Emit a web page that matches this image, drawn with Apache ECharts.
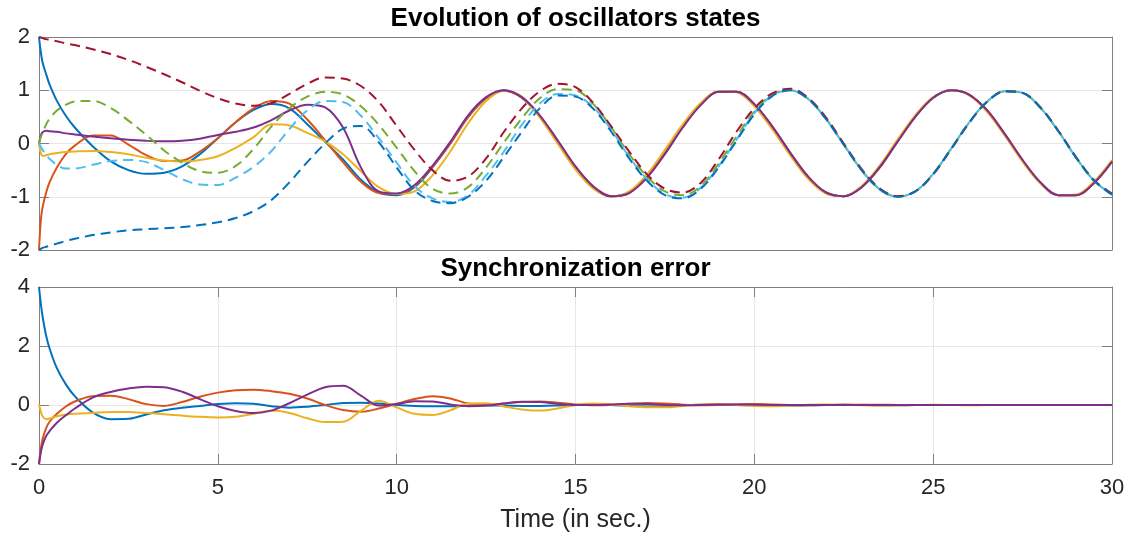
<!DOCTYPE html>
<html>
<head>
<meta charset="utf-8">
<script src="https://cdn.jsdelivr.net/npm/echarts@6/dist/echarts.min.js"></script>
<style>
html,body{margin:0;padding:0;background:#fff;}
#chart{width:1131px;height:537px;}
</style>
</head>
<body>
<div id="chart"></div>
<script>
// ---------------- DATA ----------------
const time = [0,0.05,0.1,0.2,0.3,0.5,0.75,1,
1.5,2,2.5,3,3.5,4,4.5,5,5.5,6,
6.5,7,7.5,8,8.5,9,9.5,10,10.5,11,
11.5,12,12.5,13,13.5,14,14.5,15,15.5,16,
16.5,17,17.5,18,18.5,19,19.5,20,20.5,21,
21.5,22,22.5,23,23.5,24,24.5,25,25.5,26,
26.5,27,27.5,28,28.5,29,29.5,30];

// solid lines (states x)
const x1 = [2.0,1.72,1.52,1.3,1.1,0.8,0.52,0.3,
-0.05,-0.33,-0.5,-0.57,-0.55,-0.43,-0.2,0.1,0.4,0.63,
0.74,0.66,0.36,0.03,-0.3,-0.68,-0.92,-0.97,-0.82,-0.45,
0.0,0.5,0.85,1.0,0.86,0.51,0.04,-0.45,-0.82,-0.99,
-0.92,-0.62,-0.17,0.32,0.74,0.97,0.97,0.73,0.31,-0.18,
-0.63,-0.92,-0.99,-0.82,-0.45,0.04,0.51,0.86,1.0,0.92,
0.62,0.17,-0.32,-0.74,-0.97,-0.97,-0.73,-0.33];
const x2 = [-2.0,-1.45,-1.2,-0.92,-0.72,-0.45,-0.2,-0.04,
0.15,0.15,-0.02,-0.22,-0.33,-0.32,-0.15,0.1,0.4,0.66,
0.8,0.75,0.45,0.06,-0.35,-0.72,-0.93,-0.95,-0.8,-0.44,
0.0,0.5,0.85,0.99,0.86,0.52,0.05,-0.44,-0.81,-0.99,
-0.93,-0.63,-0.18,0.31,0.73,0.97,0.97,0.74,0.32,-0.17,
-0.62,-0.92,-0.99,-0.82,-0.46,0.03,0.5,0.86,1.0,0.92,
0.63,0.18,-0.31,-0.73,-0.97,-0.97,-0.74,-0.34];
const x3 = [0.0,-0.18,-0.23,-0.22,-0.2,-0.18,-0.16,-0.15,
-0.14,-0.16,-0.2,-0.27,-0.32,-0.34,-0.31,-0.24,-0.08,0.12,
0.36,0.34,0.2,0.04,-0.2,-0.52,-0.82,-0.95,-0.9,-0.6,
-0.15,0.38,0.8,0.99,0.88,0.49,0.0,-0.49,-0.85,-1.0,
-0.9,-0.58,-0.12,0.36,0.76,0.98,0.96,0.7,0.27,-0.22,
-0.66,-0.94,-0.99,-0.8,-0.42,0.07,0.53,0.87,1.0,0.91,
0.6,0.15,-0.34,-0.75,-0.97,-0.96,-0.71,-0.31];
const x4 = [0.0,0.15,0.21,0.24,0.23,0.22,0.19,0.17,
0.13,0.1,0.07,0.05,0.04,0.05,0.09,0.16,0.22,0.3,
0.44,0.62,0.73,0.68,0.3,-0.45,-0.9,-0.94,-0.78,-0.42,
0.03,0.53,0.87,1.0,0.87,0.53,0.06,-0.43,-0.81,-0.99,
-0.93,-0.64,-0.2,0.3,0.72,0.97,0.97,0.74,0.32,-0.17,
-0.62,-0.92,-0.99,-0.82,-0.45,0.03,0.5,0.86,1.0,0.92,
0.63,0.18,-0.31,-0.73,-0.97,-0.97,-0.74,-0.34];

// dashed lines (states y)
const y1 = [2.0,1.99,1.98,1.96,1.95,1.92,1.88,1.85,
1.77,1.68,1.57,1.44,1.3,1.15,0.99,0.85,0.75,0.71,
0.76,0.93,1.12,1.24,1.22,1.08,0.78,0.33,-0.12,-0.5,
-0.7,-0.62,-0.28,0.22,0.66,0.98,1.12,1.06,0.76,0.32,
-0.15,-0.58,-0.85,-0.92,-0.74,-0.3,0.22,0.66,0.94,1.03,
0.86,0.49,0.0,-0.48,-0.84,-0.99,-0.9,-0.58,-0.11,0.38,
0.78,0.98,0.95,0.68,0.24,-0.26,-0.69,-0.94];
const y2 = [0.0,0.12,0.2,0.36,0.47,0.62,0.73,0.79,
0.8,0.67,0.43,0.16,-0.13,-0.36,-0.52,-0.55,-0.42,-0.1,
0.32,0.66,0.88,0.97,0.92,0.7,0.35,-0.08,-0.52,-0.85,
-0.94,-0.82,-0.45,0.02,0.47,0.85,1.02,1.0,0.74,0.3,
-0.2,-0.62,-0.9,-0.97,-0.8,-0.38,0.13,0.6,0.92,1.0,
0.84,0.47,-0.02,-0.5,-0.85,-1.0,-0.9,-0.57,-0.1,0.39,
0.78,0.98,0.95,0.67,0.23,-0.27,-0.7,-0.96];
const y3 = [0.0,-0.06,-0.12,-0.22,-0.29,-0.4,-0.47,-0.47,
-0.4,-0.33,-0.31,-0.35,-0.5,-0.67,-0.77,-0.78,-0.64,-0.44,
-0.14,0.27,0.62,0.8,0.78,0.52,0.1,-0.36,-0.8,-1.03,
-1.1,-0.97,-0.6,-0.15,0.35,0.75,0.93,0.9,0.68,0.26,
-0.25,-0.67,-0.95,-1.02,-0.83,-0.43,0.07,0.57,0.9,1.0,
0.84,0.46,-0.02,-0.5,-0.86,-1.0,-0.9,-0.57,-0.1,0.39,
0.78,0.98,0.95,0.67,0.23,-0.27,-0.7,-0.96];
const y4 = [-2.0,-1.98,-1.96,-1.94,-1.92,-1.88,-1.83,-1.79,
-1.72,-1.67,-1.63,-1.61,-1.59,-1.57,-1.53,-1.48,-1.4,-1.27,
-1.06,-0.73,-0.35,0.0,0.28,0.33,0.02,-0.45,-0.88,-1.08,
-1.12,-1.0,-0.7,-0.25,0.22,0.66,0.9,0.88,0.65,0.22,
-0.28,-0.7,-0.97,-1.03,-0.85,-0.45,0.05,0.55,0.89,1.0,
0.84,0.46,-0.02,-0.5,-0.86,-1.0,-0.9,-0.57,-0.1,0.39,
0.78,0.98,0.95,0.67,0.23,-0.27,-0.7,-0.96];

// synchronization errors
const e1 = [4.0,3.45,3.0,2.35,1.9,1.25,0.7,0.3,
-0.25,-0.48,-0.47,-0.32,-0.18,-0.09,-0.03,0.03,0.06,0.04,
-0.04,-0.09,-0.06,0.0,0.07,0.08,0.05,0.0,-0.03,-0.04,
-0.04,-0.03,-0.02,-0.02,-0.03,-0.03,-0.02,0.0,0.01,0.0,
-0.03,-0.05,-0.04,-0.01,0.01,0.01,0.0,-0.01,-0.02,-0.02,
-0.01,0.0,0.01,0.0,-0.01,-0.01,0.0,0.0,0.0,0.0,
0.0,0.0,0.0,0.0,0.0,0.0,0.0,0.0];
const e2 = [-2.0,-1.5,-1.15,-0.78,-0.56,-0.3,-0.05,0.12,
0.3,0.31,0.2,0.03,-0.03,0.1,0.28,0.42,0.5,0.52,
0.47,0.38,0.22,0.0,-0.17,-0.23,-0.12,0.04,0.2,0.3,
0.22,0.05,0.01,0.05,0.1,0.12,0.08,0.02,-0.01,0.0,
0.04,0.07,0.05,0.01,-0.01,0.0,0.02,0.03,0.02,0.0,
-0.01,0.0,0.01,0.01,0.01,0.0,0.0,0.0,0.0,0.0,
0.0,0.0,0.0,0.0,0.0,0.0,0.0,0.0];
const e3 = [0.03,-0.22,-0.38,-0.48,-0.46,-0.38,-0.33,-0.3,
-0.27,-0.24,-0.24,-0.27,-0.31,-0.36,-0.4,-0.42,-0.4,-0.3,
-0.19,-0.27,-0.45,-0.58,-0.57,-0.2,0.14,-0.08,-0.3,-0.34,
-0.18,0.05,0.06,-0.05,-0.15,-0.19,-0.12,0.0,0.05,0.02,
-0.04,-0.08,-0.08,-0.03,0.02,0.03,0.0,-0.03,-0.04,-0.02,
0.01,0.02,0.01,-0.01,-0.02,-0.01,0.0,0.01,0.0,-0.01,
0.0,0.0,0.0,0.0,0.0,0.0,0.0,0.0];
const e4 = [-2.0,-1.6,-1.35,-1.05,-0.88,-0.6,-0.35,-0.12,
0.25,0.44,0.56,0.62,0.6,0.45,0.2,-0.04,-0.2,-0.27,
-0.19,0.06,0.35,0.6,0.65,0.32,-0.02,0.03,0.13,0.12,
0.02,-0.04,-0.02,0.05,0.11,0.1,0.04,0.0,0.0,0.02,
0.04,0.03,0.0,-0.01,0.0,0.02,0.02,0.01,0.0,0.0,
0.0,0.0,0.0,0.0,0.0,0.0,0.0,0.0,0.0,0.0,
0.0,0.0,0.0,0.0,0.0,0.0,0.0,0.0];

const topTitle = 'Evolution of oscillators states';
const bottomTitle = 'Synchronization error';
const xName = 'Time (in sec.)';

// ---------------- STYLE ----------------
const FONT = '"Liberation Sans", Arial, Helvetica, sans-serif';
const AX = '#808080';
const TXT = '#262626';
const GRID = '#e6e6e6';
const C = {blue:'#0072BD', orange:'#D95319', yellow:'#EDB120', purple:'#7E2F8E',
           green:'#77AC30', lblue:'#4DBEEE', red:'#A2142F'};

function pairs(v){ return time.map((t,i)=>[t, v[i]]); }
function ser(v, color, dashed, gi){
  return {
    type:'line', xAxisIndex: gi===0?0:2, yAxisIndex: gi===0?0:2,
    data: pairs(v), showSymbol:false, smooth:0.35,
    lineStyle:{color:color, width:2, type: dashed ? [10,6] : 'solid'},
    itemStyle:{color:color}, animation:false, silent:true
  };
}

const lineAx = {show:true, onZero:false, lineStyle:{color:AX, width:1}};
const tickIn = {show:true, inside:true, length:10, lineStyle:{color:AX, width:1}};
const lab = {show:true, fontSize:22, color:TXT, fontFamily:FONT};

const option = {
  animation:false,
  backgroundColor:'#ffffff',
  graphic:[
    {type:'text', x:575.5, y:6, style:{text:topTitle, fill:'#000', font:'bold 26px ' + FONT, textAlign:'center', textVerticalAlign:'top'}},
    {type:'text', x:575.5, y:256, style:{text:bottomTitle, fill:'#000', font:'bold 26px ' + FONT, textAlign:'center', textVerticalAlign:'top'}}
  ],
  grid:[
    {left:39, top:37, width:1073, height:213, containLabel:false},
    {left:39, top:287, width:1073, height:177, containLabel:false}
  ],
  xAxis:[
    {gridIndex:0, type:'value', min:0, max:30, interval:5, position:'bottom',
     axisLine:lineAx, axisTick:{show:false}, axisLabel:{show:false}, splitLine:{show:false}},
    {gridIndex:0, type:'value', min:0, max:30, interval:5, position:'top',
     axisLine:lineAx, axisTick:{show:false}, axisLabel:{show:false}, splitLine:{show:false}},
    {gridIndex:1, type:'value', min:0, max:30, interval:5, position:'bottom',
     axisLine:lineAx, axisTick:tickIn, axisLabel:Object.assign({margin:13}, lab),
     splitLine:{show:true, lineStyle:{color:GRID, width:1}},
     name:xName, nameLocation:'middle', nameGap:44,
     nameTextStyle:{fontSize:25, color:TXT, fontFamily:FONT}},
    {gridIndex:1, type:'value', min:0, max:30, interval:5, position:'top',
     axisLine:lineAx, axisTick:tickIn, axisLabel:{show:false}, splitLine:{show:false}}
  ],
  yAxis:[
    {gridIndex:0, type:'value', min:-2, max:2, interval:1, position:'left',
     axisLine:lineAx, axisTick:tickIn, axisLabel:Object.assign({margin:9}, lab),
     splitLine:{show:true, lineStyle:{color:GRID, width:1}}},
    {gridIndex:0, type:'value', min:-2, max:2, interval:1, position:'right',
     axisLine:lineAx, axisTick:tickIn, axisLabel:{show:false}, splitLine:{show:false}},
    {gridIndex:1, type:'value', min:-2, max:4, interval:2, position:'left',
     axisLine:lineAx, axisTick:tickIn, axisLabel:Object.assign({margin:9}, lab),
     splitLine:{show:true, lineStyle:{color:GRID, width:1}}},
    {gridIndex:1, type:'value', min:-2, max:4, interval:2, position:'right',
     axisLine:lineAx, axisTick:tickIn, axisLabel:{show:false}, splitLine:{show:false}}
  ],
  series:[
    ser(x1, C.blue, false, 0),
    ser(x2, C.orange, false, 0),
    ser(x3, C.yellow, false, 0),
    ser(x4, C.purple, false, 0),
    ser(y2, C.green, true, 0),
    ser(y3, C.lblue, true, 0),
    ser(y1, C.red, true, 0),
    ser(y4, C.blue, true, 0),
    ser(e1, C.blue, false, 1),
    ser(e2, C.orange, false, 1),
    ser(e3, C.yellow, false, 1),
    ser(e4, C.purple, false, 1)
  ]
};

const chart = echarts.init(document.getElementById('chart'), null, {renderer:'canvas'});
chart.setOption(option);
</script>
</body>
</html>
